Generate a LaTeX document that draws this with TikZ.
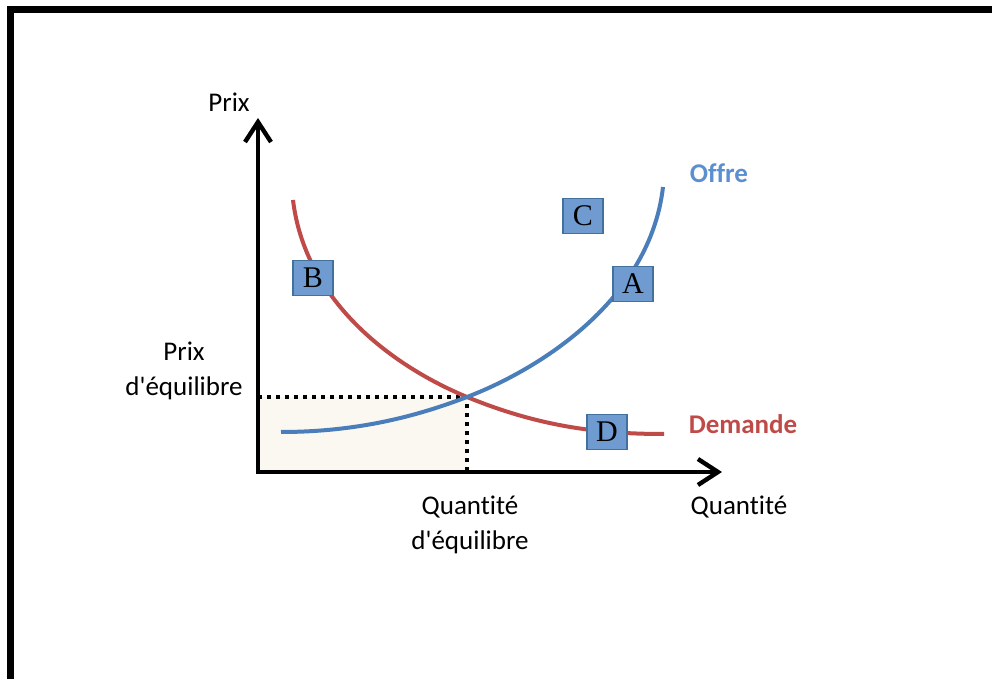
\documentclass[tikz,border=0pt]{standalone}
\usepackage{fontspec}
\setmainfont{Carlito}[Ligatures=NoCommon]
\newfontfamily\letterfont{Liberation Serif}
\usetikzlibrary{positioning,arrows.meta}
\definecolor{offreblue}{HTML}{4A7EBB}
\definecolor{offretext}{HTML}{5B8FD0}
\definecolor{demandered}{HTML}{BE4B48}
\definecolor{boxblue}{HTML}{6F9BD1}
\definecolor{boxedge}{HTML}{41719C}
\definecolor{zonefill}{HTML}{FBF8F1}

\begin{document}
\begin{tikzpicture}[x=0.5pt,y=-0.5pt,
    letterbox/.style = {draw=boxedge, fill=boxblue, line width=0.6pt, inner sep=0pt,
                        minimum width=20pt, minimum height=17.5pt,
                        font=\letterfont\fontsize{15}{18}\selectfont},
    axistext/.style  = {align=center, font=\fontsize{13.5}{17.5}\selectfont},
    curvetext/.style = {font=\bfseries\fontsize{13.5}{17.5}\selectfont},
    axisline/.style  = {line width=2.2pt, -{Straight Barb[length=10pt,width=13pt,line width=2.2pt]}},
    curveline/.style = {line width=2pt},
    guideline/.style = {line width=2pt, dash pattern=on 2pt off 2.5pt}]
     \useasboundingbox (0,0) rectangle (992,679);
     \draw[line width=3.5pt] (10,679) -- (10,10) -- (992,10);

     % axes and equilibrium point
     \coordinate (O) at (258,472);
     \coordinate (eq) at (467,397);
     \coordinate (eqP) at (258,397);
     \coordinate (eqQ) at (467,472);
     \coordinate (ytail) at (258,474);
     \coordinate (ytip) at (258,118);
     \coordinate (xtail) at (256,472);
     \coordinate (xtip) at (722,472);

     \fill[zonefill] (O) rectangle (eq);
     \draw[guideline] (eqP) -- (eq) -- (eqQ);
     \draw[axisline] (ytail) -- (ytip);
     \draw[axisline] (xtail) -- (xtip);

     % curves
     \coordinate (dtop) at (293,200);
     \coordinate (dend) at (664,434);
     \coordinate (sstart) at (281,432);
     \coordinate (stop) at (663,187);
     \draw[curveline, demandered] (dtop) .. controls (305,300) and (390,365) .. (eq)
                                         .. controls (540,427) and (600,434) .. (dend);
     \draw[curveline, offreblue] (sstart) .. controls (360,432) and (420,415) .. (eq)
                                          .. controls (540,369) and (650,300) .. (stop);

     % texts
     \node[axistext] (prix) at (229,102) {Prix};
     \node[axistext] (prixeq) at (184,371) {Prix\\d\textquotesingle équilibre};
     \node[axistext] (quanteq) at (470,525) {Quantité\\d\textquotesingle équilibre};
     \node[axistext] (quant) at (739,507) {Quantité};
     \node[curvetext, offretext] (offre) at (719,173) {Offre};
     \node[curvetext, demandered] (demande) at (743,424) {Demande};

     % letter boxes
     \node[letterbox] (boxC) at (583,216) {C};
     \node[letterbox] (boxB) at (313,278) {B};
     \node[letterbox] (boxA) at (633,284) {A};
     \node[letterbox] (boxD) at (607,432) {D};
\end{tikzpicture}
\end{document}
